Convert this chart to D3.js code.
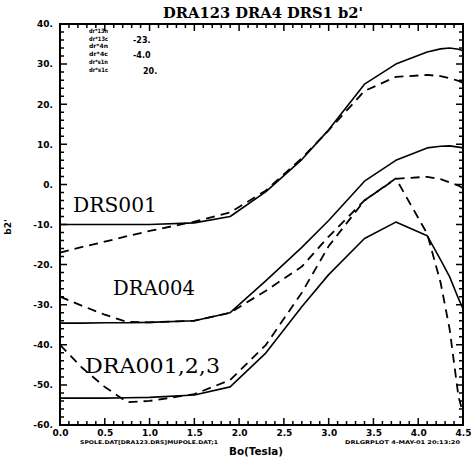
<!DOCTYPE html>
<html lang="en">
<head>
    <meta charset="UTF-8">
    <title>DRA123 DRA4 DRS1 b2'</title>
    <style>
        body {
          margin: 0;
          background: #fff;
        }
        .tick text {
          font-family: "DejaVu Sans", sans-serif;
          font-weight: bold;
          font-size: 9px;
          fill: #000;
        }
        .ticks {
          fill: none;
          stroke: #000;
          stroke-width: 1.5px;
        }
        .curve {
          fill: none;
          stroke: #000;
          stroke-width: 1.6px;
          stroke-linejoin: round;
        }
        .curve.dashed {
          stroke-width: 1.8px;
          stroke-dasharray: 9, 6;
        }
    </style>
</head>
<body>
    <script src="https://d3js.org/d3.v7.min.js"></script>
    <script>
        // field values (Tesla) shared by every curve
        var bField = [0, 0.25, 0.5, 0.75, 1.0, 1.5, 1.9, 2.3, 2.7, 3.0, 3.4, 3.75, 4.1, 4.25, 4.35, 4.45, 4.5];

        var drs001Solid  = [-10, -10, -10, -10, -10, -9.6, -8, -1.8, 6.2, 13.6, 25, 30, 33, 33.8, 34, 33.7, 33.3];
        var drs001Dashed = [-17, -15.6, -14.3, -12.9, -11.6, -9.3, -7, -1.5, 6.5, 13.5, 23.3, 26.8, 27.3, 27, 26.5, 25.8, 25.3];
        var dra004Solid  = [-34.6, -34.6, -34.5, -34.5, -34.4, -34, -32, -24, -15.7, -9, 0.8, 6, 9.1, 9.5, 9.6, 9.3, 9.1];
        var dra004Dashed = [-28, -30.3, -32.5, -34.3, -34.4, -34, -32, -26.5, -20.5, -13, -4, 1.4, 1.9, 1.3, 0.5, -0.3, -1];
        var dra001Solid  = [-53.3, -53.3, -53.3, -53.2, -53.1, -52.5, -50.5, -42, -30.5, -22.5, -13.5, -9.4, -12.8, -18.8, -23, -28.5, -31];
        var dra001Dashed = [-40, -45.8, -50.5, -54.3, -54, -52.3, -48.8, -40, -27, -15.4, -4, 1.5, -12.3, -24.5, -36, -53, -57];

        var curveNames = ["DRS001", "DRA004", "DRA001,2,3"];

        // small parameter block in the top-left corner
        var paramNames  = ["dr*13n", "dr*13c", "dr*4n", "dr*4c", "dr*s1n", "dr*s1c"];
        var paramValues = ["", "-23.", "", "-4.0", "", "20."];

        var xTicks = d3.range(0, 10).map(function(i) { return i / 2; });
        var xMinor = d3.range(0, 46).map(function(i) { return i / 10; });
        var yTicks = d3.range(-60, 41, 10);
        var yMinor = d3.range(-60, 41, 2);

        var width = 474,
            height = 458,
            plotLeft = 60,
            plotRight = 463,
            plotTop = 24,
            plotBottom = 425;

        var x = d3.scaleLinear().domain([0, 4.5]).range([plotLeft, plotRight]);
        var y = d3.scaleLinear().domain([-60, 40]).range([plotBottom, plotTop]);

        var svg = d3.select("body").append("svg")
            .attr("width", width)
            .attr("height", height)
          .append("g");

        svg.append("rect")
            .attr("x", plotLeft)
            .attr("y", plotTop)
            .attr("width", plotRight - plotLeft)
            .attr("height", plotBottom - plotTop)
            .attr("fill", "none")
            .attr("stroke", "#000")
            .attr("stroke-width", 2);

        // tick labels from the axes, tick marks drawn inwards on all four sides
        svg.append("g").attr("transform", "translate(0," + plotBottom + ")")
            .call(d3.axisBottom(x).tickValues(xTicks).tickSize(0).tickPadding(5).tickFormat(d3.format(".1f")));
        svg.append("g").attr("transform", "translate(" + plotLeft + ",0)")
            .call(d3.axisLeft(y).tickValues(yTicks).tickSize(0).tickPadding(7).tickFormat(function(d) { return d + "."; }));
        svg.selectAll(".domain").remove();

        function xTickPath(values, len) {
            return values.map(function(v) {
                return "M" + x(v) + "," + plotBottom + "v" + (-len) +
                       "M" + x(v) + "," + plotTop + "v" + len;
            }).join("");
        }
        function yTickPath(values, len) {
            return values.map(function(v) {
                return "M" + plotLeft + "," + y(v) + "h" + len +
                       "M" + plotRight + "," + y(v) + "h" + (-len);
            }).join("");
        }
        svg.append("path").attr("class", "ticks").attr("d", xTickPath(xMinor, 4) + xTickPath(xTicks, 7));
        svg.append("path").attr("class", "ticks").attr("d", yTickPath(yMinor, 4) + yTickPath(yTicks, 7));

        var line = d3.line()
            .x(function(d) { return x(d[0]); })
            .y(function(d) { return y(d[1]); });

        var curves = [
            {values: drs001Solid, dashed: false},
            {values: drs001Dashed, dashed: true},
            {values: dra004Solid, dashed: false},
            {values: dra004Dashed, dashed: true},
            {values: dra001Solid, dashed: false},
            {values: dra001Dashed, dashed: true}
        ];

        svg.selectAll(".curve")
            .data(curves)
          .enter().append("path")
            .attr("class", function(d) { return d.dashed ? "curve dashed" : "curve"; })
            .attr("d", function(d) { return line(d3.zip(bField, d.values)); });

        // curve names written on the plot
        var namePos = [[73, 212, 84], [113, 295, 82], [85, 373, 135]];
        svg.selectAll(".name")
            .data(curveNames)
          .enter().append("text")
            .attr("class", "name")
            .attr("x", function(d, i) { return namePos[i][0]; })
            .attr("y", function(d, i) { return namePos[i][1]; })
            .attr("textLength", function(d, i) { return namePos[i][2]; })
            .attr("lengthAdjust", "spacingAndGlyphs")
            .style("font-family", "'DejaVu Serif', serif")
            .style("font-size", "21px")
            .text(function(d) { return d; });

        var params = svg.append("g")
            .style("font-family", "'DejaVu Sans', sans-serif")
            .style("font-weight", "bold");
        params.selectAll(".pname")
            .data(paramNames)
          .enter().append("text")
            .attr("x", 89)
            .attr("y", function(d, i) { return 33 + i * 7.7; })
            .attr("textLength", 19)
            .attr("lengthAdjust", "spacingAndGlyphs")
            .style("font-size", "6px")
            .text(function(d) { return d; });
        params.selectAll(".pval")
            .data(paramValues)
          .enter().append("text")
            .attr("x", function(d) { return d.length > 3 ? 133 : 143; })
            .attr("y", function(d, i) { return 35 + i * 7.7; })
            .style("font-size", "8px")
            .text(function(d) { return d; });

        svg.append("text")
            .attr("x", 163)
            .attr("y", 18)
            .attr("textLength", 200)
            .attr("lengthAdjust", "spacingAndGlyphs")
            .style("font-family", "'DejaVu Serif', serif")
            .style("font-weight", "bold")
            .style("font-size", "14px")
            .text("DRA123 DRA4 DRS1 b2'");

        svg.append("text")
            .attr("transform", "translate(11,227)rotate(-90)")
            .attr("text-anchor", "middle")
            .style("font-family", "'DejaVu Sans', sans-serif")
            .style("font-weight", "bold")
            .style("font-size", "9px")
            .text("b2'");

        svg.append("text")
            .attr("x", 256)
            .attr("y", 455)
            .attr("text-anchor", "middle")
            .attr("textLength", 54)
            .attr("lengthAdjust", "spacingAndGlyphs")
            .style("font-family", "'DejaVu Sans', sans-serif")
            .style("font-weight", "bold")
            .style("font-size", "11px")
            .text("Bo(Tesla)");

        // file / plot stamps under the axis
        svg.append("text")
            .attr("x", 80)
            .attr("y", 444)
            .attr("textLength", 138)
            .attr("lengthAdjust", "spacingAndGlyphs")
            .style("font-family", "'DejaVu Sans', sans-serif")
            .style("font-weight", "bold")
            .style("font-size", "5px")
            .text("SPOLE.DAT[DRA123.DRS]MUPOLE.DAT;1");
        svg.append("text")
            .attr("x", 345)
            .attr("y", 444)
            .attr("textLength", 115)
            .attr("lengthAdjust", "spacingAndGlyphs")
            .style("font-family", "'DejaVu Sans', sans-serif")
            .style("font-weight", "bold")
            .style("font-size", "5px")
            .text("DRLGRPLOT  4-MAY-01 20:13:20");
    </script>
</body>
</html>
